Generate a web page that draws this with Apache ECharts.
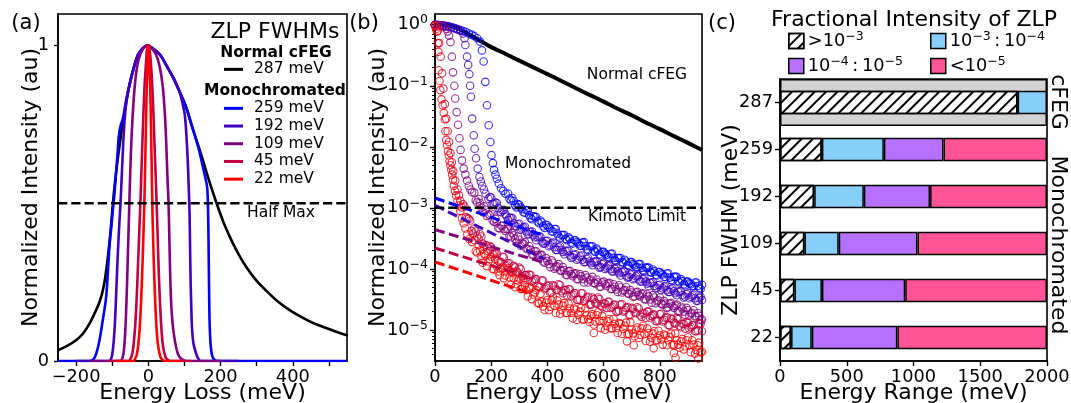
<!DOCTYPE html>
<html>
<head>
<meta charset="utf-8">
<script src="https://cdn.jsdelivr.net/npm/echarts@6.0.0/dist/echarts.min.js"></script>
<style>
html, body { margin: 0; padding: 0; background: #fff; }
#chart { width: 1071px; height: 403px; }
</style>
</head>
<body>
<div id="chart"></div>
<script>
// ---------- (a) normalized zero-loss peaks, [energy meV, intensity] ----------
const peak287 = [[-250,0.034],[-225,0.048],[-200,0.066],[-180,0.088],[-163,0.118],[-150,0.148],[-135,0.187],[-125,0.228],[-117,0.283],[-110,0.35],[-103,0.431],[-98,0.5],[-89,0.6],[-80,0.68],[-70,0.759],[-61,0.82],[-52,0.875],[-40,0.93],[-29,0.97],[-15,0.992],[-3,1.0],[10,0.993],[33,0.97],[50,0.937],[70,0.896],[86,0.855],[103,0.81],[122,0.74],[144,0.663],[166,0.58],[189,0.5],[208,0.44],[228,0.388],[250,0.338],[274,0.293],[300,0.254],[330,0.219],[357,0.19],[385,0.166],[413,0.146],[441,0.129],[468,0.115],[496,0.103],[524,0.091],[552,0.081]];
const peak259 = [[-250,0],[-165,0],[-155,0.003],[-148,0.012],[-140,0.04],[-133,0.08],[-126,0.13],[-117,0.2],[-112,0.28],[-107,0.37],[-102,0.43],[-98,0.48],[-93,0.54],[-89,0.6],[-85,0.66],[-82,0.71],[-77,0.745],[-70,0.77],[-61,0.83],[-52,0.875],[-40,0.93],[-29,0.97],[-15,0.992],[-3,1.0],[10,0.993],[33,0.97],[50,0.937],[70,0.896],[86,0.855],[103,0.81],[122,0.74],[140,0.67],[152,0.61],[160,0.57],[163,0.55],[165,0.5],[166.5,0.4],[167.5,0.3],[168.5,0.2],[169.5,0.13],[171,0.08],[173,0.045],[176,0.02],[180,0.008],[186,0.002],[195,0],[550,0]];
const peak192 = [[-200,0],[-110,0],[-104,0.005],[-100,0.02],[-96,0.06],[-92,0.13],[-88,0.24],[-84,0.35],[-80,0.44],[-77,0.5],[-73,0.6],[-68,0.72],[-62,0.81],[-55,0.86],[-45,0.91],[-30,0.965],[-15,0.99],[-3,1.0],[10,0.993],[33,0.97],[50,0.937],[70,0.896],[86,0.855],[94,0.82],[101,0.78],[107,0.685],[111,0.58],[114,0.473],[115.5,0.37],[117,0.26],[119,0.17],[121,0.103],[125,0.055],[131,0.029],[137,0.01],[145,0],[250,0]];
const peak109 = [[-160,0],[-78,0],[-72,0.008],[-68,0.03],[-65,0.07],[-62,0.14],[-59,0.24],[-56,0.36],[-53,0.48],[-50,0.6],[-46,0.72],[-41,0.82],[-35,0.9],[-27,0.955],[-15,0.99],[-3,1.0],[10,0.99],[22,0.97],[32,0.93],[40,0.87],[46,0.78],[50,0.68],[53,0.58],[56,0.5],[58,0.4],[60,0.3],[62,0.22],[65,0.15],[69,0.1],[75,0.055],[82,0.022],[90,0.008],[100,0.002],[110,0],[200,0]];
const peak45 = [[-110,0],[-55,0],[-48,0.01],[-44,0.025],[-41,0.05],[-37,0.1],[-33,0.18],[-29,0.29],[-25,0.41],[-22,0.5],[-18,0.64],[-14,0.77],[-10,0.88],[-6,0.95],[-2,1.0],[3,0.99],[8,0.93],[13,0.82],[17,0.69],[20,0.6],[23,0.5],[26,0.39],[29,0.28],[33,0.17],[37,0.09],[41,0.045],[46,0.018],[52,0.005],[60,0],[120,0]];
const peak22 = [[-90,0],[-42,0],[-36,0.008],[-32,0.02],[-28,0.05],[-24,0.1],[-20,0.19],[-16,0.31],[-13,0.42],[-11,0.5],[-8,0.66],[-5,0.83],[-2,0.95],[0,1.0],[2,0.98],[5,0.88],[8,0.71],[11,0.5],[14,0.36],[17,0.25],[21,0.14],[25,0.07],[29,0.035],[34,0.012],[40,0.003],[48,0],[90,0]];
const halfMax = 0.5;

// ---------- (b) log-scale tails, [energy meV, intensity] ----------
const tail287 = [[0,1.0],[25,0.99],[50,0.96],[75,0.9],[100,0.79],[125,0.68],[150,0.58],[175,0.5],[200,0.43],[250,0.335],[300,0.258],[350,0.2],[400,0.155],[450,0.12],[500,0.092],[550,0.071],[600,0.055],[650,0.042],[700,0.033],[750,0.025],[800,0.0195],[850,0.015],[900,0.0116],[950,0.0089]];
const tail259 = [[0,1.0],[10,0.99],[20,0.98],[30,0.97],[40,0.95],[50,0.93],[60,0.91],[70,0.88],[80,0.85],[90,0.82],[100,0.79],[110,0.76],[120,0.72],[130,0.69],[140,0.65],[150,0.6],[160,0.53],[167,0.38],[173,0.25],[179,0.116],[185,0.048],[191,0.0226],[197,0.012],[201,0.0073],[206,0.0054],[210,0.0042],[215,0.0035],[220,0.003],[227,0.0025],[235,0.0021],[243,0.0019],[251,0.0017],
[260,1.72e-3],[270,1.32e-3],[280,1.3e-3],[290,1.02e-3],[300,1.12e-3],[310,9.5e-4],[320,8.3e-4],[330,9.1e-4],[340,6.8e-4],[350,7.3e-4],[360,7.1e-4],[370,5.6e-4],[380,5.8e-4],[390,4.7e-4],[400,5.2e-4],[410,4.6e-4],[420,4.1e-4],[430,4.5e-4],[440,3.4e-4],[450,3.6e-4],[460,3.6e-4],[470,2.95e-4],[480,3.1e-4],[490,2.6e-4],[500,2.95e-4],[510,2.6e-4],[520,2.4e-4],[530,2.75e-4],[540,2.1e-4],[550,2.35e-4],[560,2.35e-4],[570,1.9e-4],[580,2.0e-4],[590,1.66e-4],[600,1.9e-4],[610,1.7e-4],[620,1.55e-4],[630,1.78e-4],[640,1.38e-4],[650,1.51e-4],[660,1.51e-4],[670,1.26e-4],[680,1.32e-4],[690,1.12e-4],[700,1.29e-4],[710,1.15e-4],[720,1.07e-4],[730,1.2e-4],[740,9.5e-5],[750,1.05e-4],[760,1.05e-4],[770,8.7e-5],[780,9.1e-5],[790,7.8e-5],[800,8.9e-5],[810,8.1e-5],[820,7.4e-5],[830,8.5e-5],[840,6.6e-5],[850,7.4e-5],[860,7.4e-5],[870,6.0e-5],[880,6.3e-5],[890,5.4e-5],[900,6.2e-5],[910,5.6e-5],[920,5.25e-5],[930,6.0e-5],[940,4.9e-5],[950,5.5e-5]];
// samples at the half steps of the tail
const tail259b = [[265,1.41e-3],[275,1.45e-3],[285,1.1e-3],[295,1.15e-3],[305,1.02e-3],[315,8.5e-4],[325,9.2e-4],[335,7.6e-4],[345,6.5e-4],[355,7.2e-4],[365,6.0e-4],[375,6.2e-4],[385,5.0e-4],[395,5.3e-4],[405,4.8e-4],[415,4.1e-4],[425,4.5e-4],[435,3.8e-4],[445,3.2e-4],[455,3.6e-4],[465,3.1e-4],[475,3.3e-4],[485,2.7e-4],[495,2.95e-4],[505,2.75e-4],[515,2.4e-4],[525,2.7e-4],[535,2.35e-4],[545,2.05e-4],[555,2.35e-4],[565,2.0e-4],[575,2.15e-4],[585,1.74e-4],[595,1.9e-4],[605,1.78e-4],[615,1.55e-4],[625,1.76e-4],[635,1.51e-4],[645,1.32e-4],[655,1.51e-4],[665,1.3e-4],[675,1.41e-4],[685,1.16e-4],[695,1.29e-4],[705,1.2e-4],[715,1.06e-4],[725,1.2e-4],[735,1.04e-4],[745,9.1e-5],[755,1.05e-4],[765,9.0e-5],[775,9.8e-5],[785,8.0e-5],[795,8.9e-5],[805,8.4e-5],[815,7.4e-5],[825,8.4e-5],[835,7.2e-5],[845,6.4e-5],[855,7.4e-5],[865,6.3e-5],[875,6.8e-5],[885,5.6e-5],[895,6.2e-5],[905,5.8e-5],[915,5.2e-5],[925,6.0e-5],[935,5.25e-5],[945,4.7e-5]];
const tail192 = [[0,1.0],[10,0.99],[20,0.98],[30,0.97],[40,0.95],[50,0.93],[60,0.9],[70,0.87],[80,0.84],[90,0.8],[100,0.72],[105,0.6],[108,0.465],[114,0.3],[118,0.22],[122,0.155],[125,0.1],[128,0.066],[132,0.029],[138,0.0155],[141,0.0093],[146,0.0065],[152,0.0044],[158,0.0032],[163,0.0027],[168,0.0023],[174,0.002],[180,0.0017],
[190,1.41e-3],[200,1.48e-3],[210,1.17e-3],[220,1.2e-3],[230,8.7e-4],[240,9.1e-4],[250,7.9e-4],[260,6.3e-4],[270,6.9e-4],[280,5.6e-4],[290,5.0e-4],[300,5.5e-4],[310,4.6e-4],[320,4.9e-4],[330,3.7e-4],[340,4.0e-4],[350,3.55e-4],[360,2.95e-4],[370,3.4e-4],[380,2.8e-4],[390,2.6e-4],[400,2.9e-4],[410,2.45e-4],[420,2.7e-4],[430,2.05e-4],[440,2.25e-4],[450,2.05e-4],[460,1.74e-4],[470,2.0e-4],[480,1.66e-4],[490,1.55e-4],[500,1.74e-4],[510,1.48e-4],[520,1.66e-4],[530,1.29e-4],[540,1.45e-4],[550,1.32e-4],[560,1.15e-4],[570,1.32e-4],[580,1.15e-4],[590,1.07e-4],[600,1.23e-4],[610,1.05e-4],[620,1.15e-4],[630,9.1e-5],[640,1.0e-4],[650,9.1e-5],[660,7.8e-5],[670,9.1e-5],[680,7.8e-5],[690,7.4e-5],[700,8.3e-5],[710,7.1e-5],[720,7.8e-5],[730,6.2e-5],[740,6.8e-5],[750,6.2e-5],[760,5.25e-5],[770,6.0e-5],[780,5.25e-5],[790,4.9e-5],[800,5.5e-5],[810,4.8e-5],[820,5.25e-5],[830,4.2e-5],[840,4.6e-5],[850,4.3e-5],[860,3.7e-5],[870,4.3e-5],[880,3.7e-5],[890,3.5e-5],[900,4.0e-5],[910,3.5e-5],[920,3.8e-5],[930,3.0e-5],[940,3.3e-5],[950,3.1e-5]];
const tail192b = [[195,1.5e-3],[205,1.16e-3],[215,1.22e-3],[225,9.9e-4],[235,8.5e-4],[245,9.3e-4],[255,7.2e-4],[265,6.9e-4],[275,6.8e-4],[285,5.0e-4],[295,5.4e-4],[305,4.4e-4],[315,4.8e-4],[325,4.1e-4],[335,3.7e-4],[345,4.1e-4],[355,3.3e-4],[365,3.3e-4],[375,3.35e-4],[385,2.6e-4],[395,2.85e-4],[405,2.35e-4],[415,2.6e-4],[425,2.26e-4],[435,2.05e-4],[445,2.35e-4],[455,1.9e-4],[465,1.95e-4],[475,1.97e-4],[485,1.51e-4],[495,1.7e-4],[505,1.41e-4],[515,1.6e-4],[525,1.41e-4],[535,1.3e-4],[545,1.51e-4],[555,1.24e-4],[565,1.29e-4],[575,1.33e-4],[585,1.05e-4],[595,1.19e-4],[605,1.0e-4],[615,1.12e-4],[625,9.9e-5],[635,9.1e-5],[645,1.05e-4],[655,8.5e-5],[665,8.8e-5],[675,9.1e-5],[685,7.2e-5],[695,8.1e-5],[705,6.8e-5],[715,7.6e-5],[725,6.7e-5],[735,6.2e-5],[745,7.1e-5],[755,5.75e-5],[765,5.9e-5],[775,6.1e-5],[785,4.8e-5],[795,5.4e-5],[805,4.5e-5],[815,5.1e-5],[825,4.5e-5],[835,4.2e-5],[845,4.8e-5],[855,4.0e-5],[865,4.2e-5],[875,4.3e-5],[885,3.4e-5],[895,3.85e-5],[905,3.3e-5],[915,3.7e-5],[925,3.3e-5],[935,3.0e-5],[945,3.5e-5]];
const tail109 = [[0,1.0],[10,0.99],[20,0.97],[30,0.93],[40,0.86],[45,0.78],[50,0.66],[55,0.52],[60,0.3],[64,0.166],[69,0.1],[72,0.062],[77,0.037],[82,0.023],[87,0.0138],[91,0.0089],[96,0.006],[102,0.0044],[108,0.0035],[114,0.0028],[120,0.0023],[126,0.002],[132,0.0018],
[140,1.78e-3],[150,1.23e-3],[160,1.2e-3],[170,8.5e-4],[180,9.3e-4],[190,7.8e-4],[200,8.1e-4],[210,5.9e-4],[220,5.75e-4],[230,4.6e-4],[240,5.1e-4],[250,4.2e-4],[260,4.5e-4],[270,3.3e-4],[280,3.55e-4],[290,2.7e-4],[300,3.0e-4],[310,2.6e-4],[320,2.75e-4],[330,2.1e-4],[340,2.05e-4],[350,1.7e-4],[360,1.95e-4],[370,1.55e-4],[380,1.7e-4],[390,1.26e-4],[400,1.35e-4],[410,1.07e-4],[420,1.26e-4],[430,1.07e-4],[440,1.2e-4],[450,9.3e-5],[460,9.5e-5],[470,7.9e-5],[480,9.3e-5],[490,7.6e-5],[500,8.5e-5],[510,6.8e-5],[520,7.6e-5],[530,6.0e-5],[540,7.2e-5],[550,6.5e-5],[560,7.4e-5],[570,5.75e-5],[580,6.0e-5],[590,5.1e-5],[600,6.2e-5],[610,5.25e-5],[620,5.9e-5],[630,4.7e-5],[640,5.1e-5],[650,4.2e-5],[660,5.0e-5],[670,4.4e-5],[680,5.0e-5],[690,3.9e-5],[700,4.1e-5],[710,3.55e-5],[720,4.2e-5],[730,3.55e-5],[740,4.0e-5],[750,3.16e-5],[760,3.55e-5],[770,2.8e-5],[780,3.4e-5],[790,2.95e-5],[800,3.4e-5],[810,2.6e-5],[820,2.7e-5],[830,2.35e-5],[840,2.75e-5],[850,2.3e-5],[860,2.6e-5],[870,2.0e-5],[880,2.25e-5],[890,1.78e-5],[900,2.1e-5],[910,1.86e-5],[920,2.1e-5],[930,1.66e-5],[940,1.7e-5],[950,1.48e-5]];
const tail109b = [[145,1.33e-3],[155,1.4e-3],[165,1.01e-3],[175,1.06e-3],[185,7.4e-4],[195,7.7e-4],[205,6.2e-4],[215,6.6e-4],[225,4.7e-4],[235,5.1e-4],[245,4.5e-4],[255,4.5e-4],[265,3.5e-4],[275,3.9e-4],[285,3.1e-4],[295,3.4e-4],[305,2.4e-4],[315,2.6e-4],[325,2.16e-4],[335,2.35e-4],[345,1.72e-4],[355,1.93e-4],[365,1.7e-4],[375,1.68e-4],[385,1.32e-4],[395,1.5e-4],[405,1.2e-4],[415,1.38e-4],[425,1.01e-4],[435,1.1e-4],[445,9.5e-5],[455,1.07e-4],[465,8.0e-5],[475,9.1e-5],[485,8.2e-5],[495,8.3e-5],[505,6.8e-5],[515,8.2e-5],[525,6.8e-5],[535,7.9e-5],[545,6.0e-5],[555,6.7e-5],[565,5.9e-5],[575,6.7e-5],[585,5.1e-5],[595,6.0e-5],[605,5.6e-5],[615,5.75e-5],[625,4.7e-5],[635,5.6e-5],[645,4.6e-5],[655,5.4e-5],[665,4.1e-5],[675,4.5e-5],[685,4.0e-5],[695,4.5e-5],[705,3.5e-5],[715,4.1e-5],[725,3.76e-5],[735,3.9e-5],[745,3.2e-5],[755,3.85e-5],[765,3.16e-5],[775,3.7e-5],[785,2.75e-5],[795,3.05e-5],[805,2.7e-5],[815,3.0e-5],[825,2.3e-5],[835,2.7e-5],[845,2.45e-5],[855,2.5e-5],[865,2.04e-5],[875,2.4e-5],[885,2.0e-5],[895,2.3e-5],[905,1.72e-5],[915,1.9e-5],[925,1.68e-5],[935,1.9e-5],[945,1.46e-5]];
const tail45 = [[0,0.98],[5,0.93],[10,0.8],[15,0.5],[20,0.3],[25,0.16],[30,0.09],[35,0.05],[40,0.029],[45,0.018],[50,0.012],[55,0.0079],[60,0.0056],[65,0.004],[72,0.0028],[80,0.002],[85,0.0016],[90,0.0013],
[100,1.15e-3],[110,7.1e-4],[120,6.6e-4],[130,4.2e-4],[140,4.6e-4],[150,3.4e-4],[160,3.7e-4],[170,2.6e-4],[180,2.45e-4],[190,1.95e-4],[200,2.25e-4],[210,1.78e-4],[220,1.78e-4],[230,1.29e-4],[240,1.58e-4],[250,1.12e-4],[260,1.23e-4],[270,9.1e-5],[280,1.12e-4],[290,9.1e-5],[300,1.05e-4],[310,7.6e-5],[320,7.9e-5],[330,6.5e-5],[340,7.9e-5],[350,6.5e-5],[360,6.8e-5],[370,5.0e-5],[380,6.5e-5],[390,4.7e-5],[400,5.25e-5],[410,4.1e-5],[420,5.4e-5],[430,4.6e-5],[440,5.6e-5],[450,4.3e-5],[460,4.5e-5],[470,3.7e-5],[480,4.6e-5],[490,3.8e-5],[500,4.0e-5],[510,3.1e-5],[520,4.0e-5],[530,3.0e-5],[540,3.4e-5],[550,2.6e-5],[560,3.4e-5],[570,2.8e-5],[580,3.4e-5],[590,2.5e-5],[600,2.7e-5],[610,2.3e-5],[620,2.9e-5],[630,2.4e-5],[640,2.6e-5],[650,2.0e-5],[660,2.6e-5],[670,2.0e-5],[680,2.3e-5],[690,1.78e-5],[700,2.3e-5],[710,1.95e-5],[720,2.35e-5],[730,1.74e-5],[740,1.86e-5],[750,1.58e-5],[760,2.0e-5],[770,1.7e-5],[780,1.78e-5],[790,1.38e-5],[800,1.82e-5],[810,1.38e-5],[820,1.58e-5],[830,1.2e-5],[840,1.55e-5],[850,1.32e-5],[860,1.58e-5],[870,1.17e-5],[880,1.26e-5],[890,1.05e-5],[900,1.32e-5],[910,1.12e-5],[920,1.2e-5],[930,9.5e-6],[940,1.26e-5],[950,9.5e-6]];
const tail45b = [[95,1.02e-3],[105,1.05e-3],[115,6.8e-4],[125,6.2e-4],[135,3.8e-4],[145,4.1e-4],[155,3.1e-4],[165,3.4e-4],[175,2.3e-4],[185,2.4e-4],[195,2.37e-4],[205,1.74e-4],[215,1.82e-4],[225,1.35e-4],[235,1.29e-4],[245,1.55e-4],[255,1.16e-4],[265,1.24e-4],[275,8.8e-5],[285,1.06e-4],[295,8.6e-5],[305,9.9e-5],[315,7.1e-5],[325,7.9e-5],[335,8.1e-5],[345,6.2e-5],[355,6.8e-5],[365,5.2e-5],[375,5.1e-5],[385,6.4e-5],[395,4.9e-5],[405,5.4e-5],[415,4.1e-5],[425,5.2e-5],[435,4.5e-5],[445,5.4e-5],[455,4.0e-5],[465,4.5e-5],[475,4.7e-5],[485,3.6e-5],[495,4.0e-5],[505,3.1e-5],[515,3.16e-5],[525,4.0e-5],[535,3.16e-5],[545,3.5e-5],[555,2.6e-5],[565,3.2e-5],[575,2.7e-5],[585,3.2e-5],[595,2.37e-5],[605,2.7e-5],[615,2.9e-5],[625,2.3e-5],[635,2.54e-5],[645,2.0e-5],[655,2.07e-5],[665,2.66e-5],[675,2.1e-5],[685,2.37e-5],[695,1.76e-5],[705,2.2e-5],[715,1.88e-5],[725,2.24e-5],[735,1.64e-5],[745,1.88e-5],[755,2.0e-5],[765,1.6e-5],[775,1.78e-5],[785,1.4e-5],[795,1.43e-5],[805,1.84e-5],[815,1.46e-5],[825,1.62e-5],[835,1.19e-5],[845,1.5e-5],[855,1.27e-5],[865,1.51e-5],[875,1.11e-5],[885,1.26e-5],[895,1.33e-5],[905,1.06e-5],[915,1.19e-5],[925,9.5e-6],[935,9.9e-6],[945,1.27e-5]];
const tail22 = [[0,0.95],[4,0.85],[7,0.77],[10,0.5],[12,0.36],[13,0.18],[16,0.12],[19,0.085],[23,0.06],[27,0.048],[31,0.036],[35,0.028],[37,0.018],[40,0.013],[43,0.0107],[46,0.0085],[49,0.0072],[52,0.0058],[55,0.005],[58,0.0042],[61,0.0035],[64,0.0029],[67,0.0023],[71,0.0019],[75,0.0016],[80,0.0013],[85,0.0011],[90,8.9e-4],[96,6.8e-4],[102,5.6e-4],[108,4.6e-4],[115,3.7e-4],[122,3.1e-4],[132,2.75e-4],
[140,2.95e-4],[150,1.86e-4],[160,2.0e-4],[170,1.26e-4],[180,1.66e-4],[190,1.32e-4],[200,1.58e-4],[210,9.8e-5],[220,1.1e-4],[230,7.9e-5],[240,1.05e-4],[250,7.8e-5],[260,1.02e-4],[270,5.5e-5],[280,7.1e-5],[290,5.6e-5],[300,6.9e-5],[310,4.7e-5],[320,5.4e-5],[330,3.55e-5],[340,4.8e-5],[350,3.8e-5],[360,4.5e-5],[370,2.7e-5],[380,2.9e-5],[390,2.14e-5],[400,3.1e-5],[410,2.4e-5],[420,3.4e-5],[430,1.9e-5],[440,2.6e-5],[450,2.14e-5],[460,2.75e-5],[470,1.9e-5],[480,2.24e-5],[490,1.55e-5],[500,2.14e-5],[510,1.78e-5],[520,2.3e-5],[530,1.48e-5],[540,1.74e-5],[550,1.35e-5],[560,1.82e-5],[570,1.38e-5],[580,1.95e-5],[590,1.07e-5],[600,1.41e-5],[610,1.17e-5],[620,1.51e-5],[630,1.07e-5],[640,1.26e-5],[650,8.9e-6],[660,1.26e-5],[670,1.05e-5],[680,1.32e-5],[690,8.7e-6],[700,1.02e-5],[710,7.9e-6],[720,1.1e-5],[730,8.3e-6],[740,1.17e-5],[750,6.6e-6],[760,8.9e-6],[770,7.4e-6],[780,9.5e-6],[790,6.8e-6],[800,8.1e-6],[810,5.75e-6],[820,8.1e-6],[830,6.8e-6],[840,8.7e-6],[850,5.75e-6],[860,6.8e-6],[870,5.1e-6],[880,7.1e-6],[890,5.4e-6],[900,7.6e-6],[910,4.3e-6],[920,5.75e-6],[930,4.7e-6],[940,6.2e-6],[950,4.4e-6],
[565,8.9e-6],[683,6.5e-6],[707,5.6e-6],[778,5.0e-6],[850,4.2e-6],[856,3.5e-6],[937,3.4e-6]];
const tail22b = [[145,1.95e-4],[155,2.5e-4],[165,1.62e-4],[175,1.78e-4],[185,1.11e-4],[195,1.45e-4],[205,1.0e-4],[215,1.46e-4],[225,9.1e-5],[235,9.9e-5],[245,7.0e-5],[255,9.5e-5],[265,7.3e-5],[275,8.6e-5],[285,5.0e-5],[295,6.5e-5],[305,4.7e-5],[315,6.5e-5],[325,4.5e-5],[335,5.1e-5],[345,3.2e-5],[355,4.1e-5],[365,2.8e-5],[375,3.9e-5],[385,2.43e-5],[395,2.8e-5],[405,2.1e-5],[415,3.05e-5],[425,2.5e-5],[435,3.05e-5],[445,1.84e-5],[455,2.5e-5],[465,1.9e-5],[475,2.7e-5],[485,1.9e-5],[495,2.24e-5],[505,1.46e-5],[515,2.0e-5],[525,1.48e-5],[535,2.26e-5],[545,1.5e-5],[555,1.7e-5],[565,1.23e-5],[575,1.76e-5],[585,1.41e-5],[595,1.7e-5],[605,1.01e-5],[615,1.38e-5],[625,1.06e-5],[635,1.51e-5],[645,1.08e-5],[655,1.3e-5],[665,8.6e-6],[675,1.17e-5],[685,8.6e-6],[695,1.33e-5],[705,8.8e-6],[715,1.01e-5],[725,7.4e-6],[735,1.06e-5],[745,8.6e-6],[755,1.06e-5],[765,6.4e-6],[775,8.7e-6],[785,6.7e-6],[795,9.7e-6],[805,7.0e-6],[815,8.4e-6],[825,5.6e-6],[835,7.7e-6],[845,5.7e-6],[855,8.8e-6],[865,5.75e-6],[875,6.5e-6],[885,4.8e-6],[895,6.8e-6],[905,5.6e-6],[915,6.8e-6],[925,4.1e-6],[935,5.6e-6],[945,4.3e-6]];
// exponential background fits (straight on the log axis)
const fit259 = [[0,1.45e-3],[390,3.5e-4]];
const fit192 = [[0,1.1e-3],[390,1.45e-4]];
const fit109 = [[0,4.4e-4],[380,1.3e-4]];
const fit45 = [[0,2.2e-4],[345,7.0e-5]];
const fit22 = [[0,1.3e-4],[340,4.0e-5]];
const kimotoLimit = 1e-3;

// ---------- (c) energy range per intensity band (meV segment widths) ----------
const fwhmLabels = ['287','259','192','109','45','22'];
const rangeAbove1e3 = [1780, 314, 256, 183, 108, 83];
const range1e3to1e4 = [220, 464, 372, 257, 206, 155];
const range1e4to1e5 = ['-', 447, 496, 590, 624, 641];
const rangeBelow1e5 = ['-', 775, 876, 970, 1062, 1121];
const cfegBand = [2000, '-', '-', '-', '-', '-'];

// ---------- ticks ----------
const ticksA = [-200,-100,0,100,200,300,400,500];
const labelsA = [-200,0,200,400];
const ticksAy = [0,1];
const ticksB = [0,200,400,600,800];
const decadesB = [1,0.1,0.01,1e-3,1e-4,1e-5];
const minorB = [4e-6,5e-6,6e-6,7e-6,8e-6,9e-6,2e-5,3e-5,4e-5,5e-5,6e-5,7e-5,8e-5,9e-5,2e-4,3e-4,4e-4,5e-4,6e-4,7e-4,8e-4,9e-4,2e-3,3e-3,4e-3,5e-3,6e-3,7e-3,8e-3,9e-3,0.02,0.03,0.04,0.05,0.06,0.07,0.08,0.09,0.2,0.3,0.4,0.5,0.6,0.7,0.8,0.9];

const FONT = 'DejaVu Sans';
const C = { k: '#000000', c259: '#0000ff', c192: '#4000bf', c109: '#800080', c45: '#bf0040', c22: '#ff0000',
            sky: '#87cefa', lav: '#b672ff', pink: '#ff5596', gray: '#d3d3d3' };
const MINUS = '\u2212';

const tick = (vals, len, w) => ({ show: true, inside: false, length: len, customValues: vals, lineStyle: { color: '#000', width: w } });
const nameStyle = { fontSize: 22, color: '#000', fontFamily: FONT };
const plainLabel = (vals, margin) => ({ customValues: vals, fontSize: 17.8, color: '#000', fontFamily: FONT, margin: margin,
  formatter: v => String(v).replace('-', MINUS) });
const supRich = {
  b: { fontSize: 17.8, fontFamily: FONT, color: '#000', lineHeight: 22 },
  s: { fontSize: 12.5, fontFamily: FONT, color: '#000', lineHeight: 13, verticalAlign: 'top' }
};
const logLabel = v => {
  const e = Math.round(Math.log10(v));
  return '{b|10}{s|' + (e < 0 ? MINUS + (-e) : e) + '}';
};
const axisLine = { show: true, onZero: false, lineStyle: { color: '#000', width: 1.6 } };
const gridBox = { show: true, borderColor: '#000', borderWidth: 1.6, backgroundColor: 'rgba(0,0,0,0)', outerBoundsMode: 'none', containLabel: false };
// axis title placed at a fixed gap from the axis line
const axisName = (text, gap) => ({ name: text, nameLocation: 'middle', nameGap: gap, nameMoveOverlap: false, nameTextStyle: nameStyle });

function peakLine(name, data, color) {
  return { type: 'line', name, xAxisIndex: 0, yAxisIndex: 0, data, smooth: 0.35, symbol: 'none',
    lineStyle: { color, width: 2.6 }, itemStyle: { color } };
}
function tailDots(name, data, color) {
  return { type: 'scatter', name, xAxisIndex: 1, yAxisIndex: 1, data, symbol: 'circle', symbolSize: 7.5,
    itemStyle: { color: 'rgba(0,0,0,0)', borderColor: color, borderWidth: 1.1 } };
}
function fitLine(name, data, color) {
  return { type: 'line', name, xAxisIndex: 1, yAxisIndex: 1, data, symbol: 'none', z: 4,
    lineStyle: { color, width: 3, type: [10, 4.5] } };
}
function bandBar(name, data, style) {
  return { type: 'bar', name, xAxisIndex: 2, yAxisIndex: 3, data, stack: 'range', barWidth: '50%', z: 3,
    itemStyle: Object.assign({ borderColor: '#000', borderWidth: 1.5 }, style) };
}
const hatch = { symbol: 'rect', symbolSize: 1, color: '#000', dashArrayX: [1, 0], dashArrayY: [1.3, 5.7], rotation: -Math.PI / 4 };

function txt(text, x, y, size, extra, rotation) {
  const el = { type: 'text', x, y, z: 100, silent: true,
    style: Object.assign({ text, fill: '#000', fontSize: size, fontFamily: FONT, align: 'center', verticalAlign: 'middle' }, extra || {}) };
  if (rotation) el.rotation = rotation;
  return el;
}

const legendText = { fontSize: 15.5, color: '#000', fontFamily: FONT, lineHeight: 17.7, padding: [0, 0, 0, 6] };
const bandNames = { gt: 'above 1e-3', b34: '1e-3 to 1e-4', b45: '1e-4 to 1e-5', lt: 'below 1e-5' };
const bandLegendText = {
  [bandNames.gt]: '{b|>10}{s|' + MINUS + '3}',
  [bandNames.b34]: '{b|10}{s|' + MINUS + '3}{b|\u2009:\u200910}{s|' + MINUS + '4}',
  [bandNames.b45]: '{b|10}{s|' + MINUS + '4}{b|\u2009:\u200910}{s|' + MINUS + '5}',
  [bandNames.lt]: '{b|<10}{s|' + MINUS + '5}'
};
function bandLegend(name, left, top) {
  return { data: [name], left, top, padding: 0, icon: 'rect', itemWidth: 15, itemHeight: 15, selectedMode: false,
    itemStyle: { borderColor: '#000', borderWidth: 1.5 },
    formatter: n => bandLegendText[n], textStyle: { rich: supRich, padding: [0, 0, 0, -1] } };
}

const option = {
  animation: false,
  backgroundColor: '#fff',
  textStyle: { fontFamily: FONT, color: '#000' },
  grid: [
    Object.assign({ left: 58, top: 14, width: 289, height: 347 }, gridBox),
    Object.assign({ left: 435, top: 14, width: 267, height: 347 }, gridBox),
    Object.assign({ left: 780, top: 79, width: 267, height: 282 }, gridBox)
  ],
  xAxis: [
    Object.assign({ gridIndex: 0, type: 'value', min: -250, max: 550, axisLine, splitLine: { show: false },
      axisTick: tick(ticksA, 5, 1.4), axisLabel: plainLabel(labelsA, 7) }, axisName('Energy Loss (meV)', 21)),
    Object.assign({ gridIndex: 1, type: 'value', min: 0, max: 950, axisLine, splitLine: { show: false },
      axisTick: tick(ticksB, 5, 1.4), axisLabel: plainLabel(ticksB, 7) }, axisName('Energy Loss (meV)', 21)),
    Object.assign({ gridIndex: 2, type: 'value', min: 0, max: 2000, interval: 500, axisLine, splitLine: { show: false },
      axisTick: { show: true, length: 5, lineStyle: { color: '#000', width: 1.4 } },
      axisLabel: { fontSize: 17.8, color: '#000', fontFamily: FONT, margin: 7, formatter: v => String(v) } },
      axisName('Energy Range (meV)', 21))
  ],
  yAxis: [
    Object.assign({ gridIndex: 0, type: 'value', min: 0, max: 1.1, axisLine, splitLine: { show: false },
      axisTick: tick(ticksAy, 4, 1.4), axisLabel: plainLabel(ticksAy, 9) }, axisName('Normalized Intensity (au)', 16)),
    Object.assign({ gridIndex: 1, type: 'log', logBase: 10, min: 3.1e-6, max: 1.5, position: 'left', axisLine, splitLine: { show: false },
      axisTick: tick(decadesB, 5, 1.4),
      axisLabel: { customValues: decadesB, formatter: logLabel, rich: supRich, margin: 7 } },
      axisName('Normalized Intensity (au)', 46)),
    { gridIndex: 1, type: 'log', logBase: 10, min: 3.1e-6, max: 1.5, position: 'left', offset: 0,
      axisLine: { show: false, onZero: false }, axisLabel: { show: false }, splitLine: { show: false },
      axisTick: tick(minorB, 3, 1) },
    Object.assign({ gridIndex: 2, type: 'category', data: fwhmLabels, inverse: true, position: 'left', axisLine, splitLine: { show: false },
      axisTick: { show: true, alignWithLabel: true, length: 5, lineStyle: { color: '#000', width: 1.4 } },
      axisLabel: { fontSize: 17.8, color: '#000', fontFamily: FONT, margin: 7 } }, axisName('ZLP FWHM (meV)', 38)),
    { gridIndex: 2, type: 'category', data: fwhmLabels, inverse: true, position: 'left', offset: 0, show: false }
  ],
  legend: [
    { data: ['287 meV'], left: 224, top: 60.5, padding: 0, orient: 'vertical', icon: 'rect', itemWidth: 19, itemHeight: 3,
      itemGap: 0, selectedMode: false, textStyle: legendText },
    { data: ['259 meV','192 meV','109 meV','45 meV','22 meV'], left: 224, top: 99.5, padding: 0, orient: 'vertical',
      icon: 'rect', itemWidth: 19, itemHeight: 3, itemGap: 0, selectedMode: false, textStyle: legendText },
    bandLegend(bandNames.gt, 788, 30),
    bandLegend(bandNames.b34, 930, 30),
    bandLegend(bandNames.b45, 788, 55),
    bandLegend(bandNames.lt, 930, 55)
  ],
  graphic: [
    txt('(a)', 26, 24, 21),
    txt('(b)', 364, 24, 21),
    txt('(c)', 722, 24, 21),
    txt('ZLP FWHMs', 275, 32, 22),
    txt('Normal cFEG', 276, 53, 15.5, { fontWeight: 'bold' }),
    txt('Monochromated', 275, 91, 15.5, { fontWeight: 'bold' }),
    txt('Half Max', 281, 213, 15.5),
    txt('Normal cFEG', 637, 75, 15.5),
    txt('Monochromated', 568, 164, 15.5),
    txt('Kimoto Limit', 637, 217, 15.5),
    txt('Fractional Intensity of ZLP', 914, 20, 22),
    txt('cFEG', 1058, 102, 22, null, -Math.PI / 2),
    txt('Monochromated', 1058, 245, 22, null, -Math.PI / 2)
  ],
  series: [
    // (a)
    peakLine('287 meV', peak287, C.k),
    peakLine('259 meV', peak259, C.c259),
    peakLine('192 meV', peak192, C.c192),
    peakLine('109 meV', peak109, C.c109),
    peakLine('45 meV', peak45, C.c45),
    peakLine('22 meV', peak22, C.c22),
    { type: 'line', name: 'half max', xAxisIndex: 0, yAxisIndex: 0, data: [[-250, halfMax], [550, halfMax]], symbol: 'none',
      lineStyle: { color: '#000', width: 2.5, type: [9.25, 4] }, z: 5 },
    // (b)
    { type: 'line', name: 'cFEG tail', xAxisIndex: 1, yAxisIndex: 1, data: tail287, smooth: 0.3, symbol: 'none',
      lineStyle: { color: '#000', width: 4 }, z: 1 },
    tailDots('259 meV tail', tail259.concat(tail259b), C.c259),
    tailDots('192 meV tail', tail192.concat(tail192b), C.c192),
    tailDots('109 meV tail', tail109.concat(tail109b), C.c109),
    tailDots('45 meV tail', tail45.concat(tail45b), C.c45),
    tailDots('22 meV tail', tail22.concat(tail22b), C.c22),
    fitLine('259 meV fit', fit259, C.c259),
    fitLine('192 meV fit', fit192, C.c192),
    fitLine('109 meV fit', fit109, C.c109),
    fitLine('45 meV fit', fit45, C.c45),
    fitLine('22 meV fit', fit22, C.c22),
    { type: 'line', name: 'Kimoto limit', xAxisIndex: 1, yAxisIndex: 1, data: [[0, kimotoLimit], [950, kimotoLimit]], symbol: 'none',
      lineStyle: { color: '#000', width: 2.5, type: [9.25, 4] }, z: 5 },
    // (c)
    { type: 'bar', name: 'cFEG band', xAxisIndex: 2, yAxisIndex: 4, data: cfegBand, barWidth: '100%', z: 1,
      itemStyle: { color: C.gray, borderColor: '#000', borderWidth: 1.5 } },
    bandBar(bandNames.gt, rangeAbove1e3, { color: '#fff', decal: hatch }),
    bandBar(bandNames.b34, range1e3to1e4, { color: C.sky }),
    bandBar(bandNames.b45, range1e4to1e5, { color: C.lav }),
    bandBar(bandNames.lt, rangeBelow1e5, { color: C.pink })
  ]
};

const chart = echarts.init(document.getElementById('chart'), null, { renderer: 'canvas' });
chart.setOption(option);
</script>
</body>
</html>
